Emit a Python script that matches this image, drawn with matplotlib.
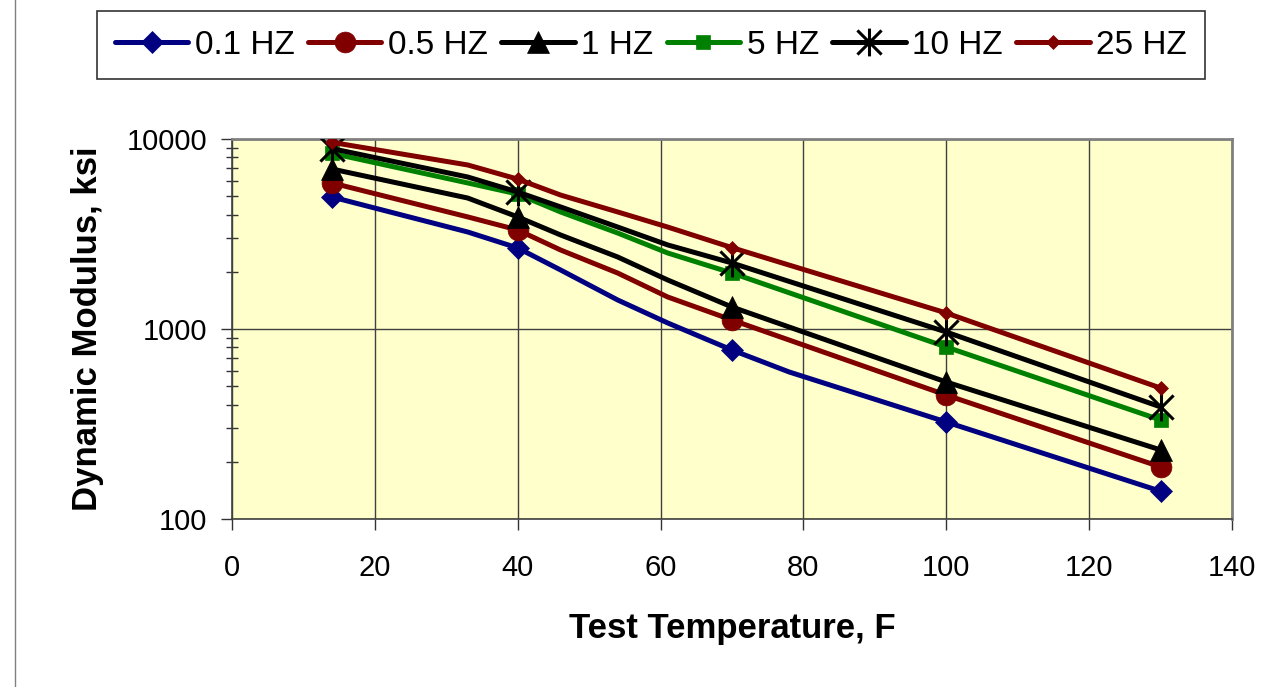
import matplotlib
matplotlib.use("Agg")
import matplotlib.pyplot as plt
from matplotlib.path import Path
from matplotlib.lines import Line2D
from matplotlib.ticker import LogLocator, NullFormatter, FixedLocator
import numpy as np

plt.rcParams['font.family'] = ['Liberation Sans', 'DejaVu Sans']

# Measured test temperatures (markers)
temp_meas = [14, 40, 70, 100, 130]
# Line vertex temperatures (lines have extra bends between measured points)
temp_line = [14, 33, 40, 46, 54, 61, 70, 100, 130]
temp_line_01 = [14, 33, 40, 46, 54, 61, 70, 78, 100, 130]

labels = ["0.1 HZ", "0.5 HZ", "1 HZ", "5 HZ", "10 HZ", "25 HZ"]

# Dynamic modulus (ksi) along each line
e_01 = [4950, 3240, 2670, 2045, 1421, 1076, 775, 594, 324, 140]
e_05 = [5870, 3890, 3320, 2605, 1970, 1474, 1115, 449, 188]
e_1 = [6950, 4890, 3890, 3125, 2393, 1811, 1305, 526, 231]
e_5 = [8400, 5870, 5130, 4130, 3200, 2512, 1970, 804, 332]
e_10 = [8900, 6310, 5260, 4390, 3440, 2770, 2225, 964, 389]
e_25 = [9600, 7300, 6150, 5070, 4130, 3440, 2680, 1214, 489]

series_x = [temp_line_01, temp_line, temp_line, temp_line, temp_line, temp_line]
series_y = [e_01, e_05, e_1, e_5, e_10, e_25]

colors = ["#000080", "#800000", "#000000", "#008000", "#000000", "#800000"]

star = Path([(-1, -1), (1, 1), (-1, 1), (1, -1), (0, -1.15), (0, 1.15)],
            [Path.MOVETO, Path.LINETO, Path.MOVETO, Path.LINETO, Path.MOVETO, Path.LINETO])
markers = ["D", "o", "^", "s", star, "D"]
msizes = [11.5, 15, 16, 10.5, 20, 7.5]

fig = plt.figure(figsize=(12.87, 6.87), dpi=100)
ax = fig.add_axes([232 / 1287, 1 - 519 / 687, 1000 / 1287, 380 / 687])
ax.set_facecolor("#FFFFCC")

handles = []
for xs, ys, c, m, ms, lab in zip(series_x, series_y, colors, markers, msizes, labels):
    idx = [xs.index(t) for t in temp_meas]
    is_star = not isinstance(m, str)
    h, = ax.plot(xs, ys, color=c, lw=3.6, marker=m, markevery=idx, markersize=ms,
                 markerfacecolor=c, markeredgecolor=c,
                 markeredgewidth=2.2 if is_star else 0.5,
                 label=lab, solid_joinstyle='round', solid_capstyle='round', zorder=3)
    handles.append(h)

ax.set_yscale("log")
ax.set_xlim(0, 140)
ax.set_ylim(100, 10000)
ax.xaxis.set_major_locator(FixedLocator([0, 20, 40, 60, 80, 100, 120, 140]))
ax.yaxis.set_major_locator(FixedLocator([100, 1000, 10000]))
ax.yaxis.set_major_formatter(matplotlib.ticker.FuncFormatter(lambda v, p: f"{int(round(v))}"))
ax.yaxis.set_minor_locator(LogLocator(base=10, subs=np.arange(2, 10)))
ax.yaxis.set_minor_formatter(NullFormatter())

ax.grid(True, which="major", color="#404040", lw=1.0, zorder=1)
ax.set_axisbelow(True)

ax.tick_params(axis="both", which="major", direction="out", length=8, width=1,
               labelsize=21, color="#333333")
ax.tick_params(axis="x", which="major", pad=17)
ax.tick_params(axis="y", which="major", pad=10)
ax.tick_params(axis="y", which="minor", direction="inout", length=9, width=1, color="#333333")

for s in ["top", "right"]:
    ax.spines[s].set_color("#808080")
    ax.spines[s].set_linewidth(2)
for s in ["left", "bottom"]:
    ax.spines[s].set_color("#404040")
    ax.spines[s].set_linewidth(1.2)

ax.set_xlabel("Test Temperature, F", fontsize=25, fontweight="bold", labelpad=22)
ax.set_ylabel("Dynamic Modulus, ksi", fontsize=25, fontweight="bold", labelpad=16)

leg = fig.legend(handles=handles, loc="center", bbox_to_anchor=(651 / 1287, 1 - 45 / 687),
                 ncol=6, frameon=True, fancybox=False, fontsize=24, handlelength=2.2,
                 handletextpad=0.2, columnspacing=0.4, borderpad=0.55, edgecolor="#000000")
leg.get_frame().set_linewidth(1.2)

# outer chart-area border on the left
fig.add_artist(Line2D([15 / 1287, 15 / 1287], [0, 1], transform=fig.transFigure,
                      color="#808080", lw=1))

fig.savefig("out.png", dpi=100, facecolor="white")
